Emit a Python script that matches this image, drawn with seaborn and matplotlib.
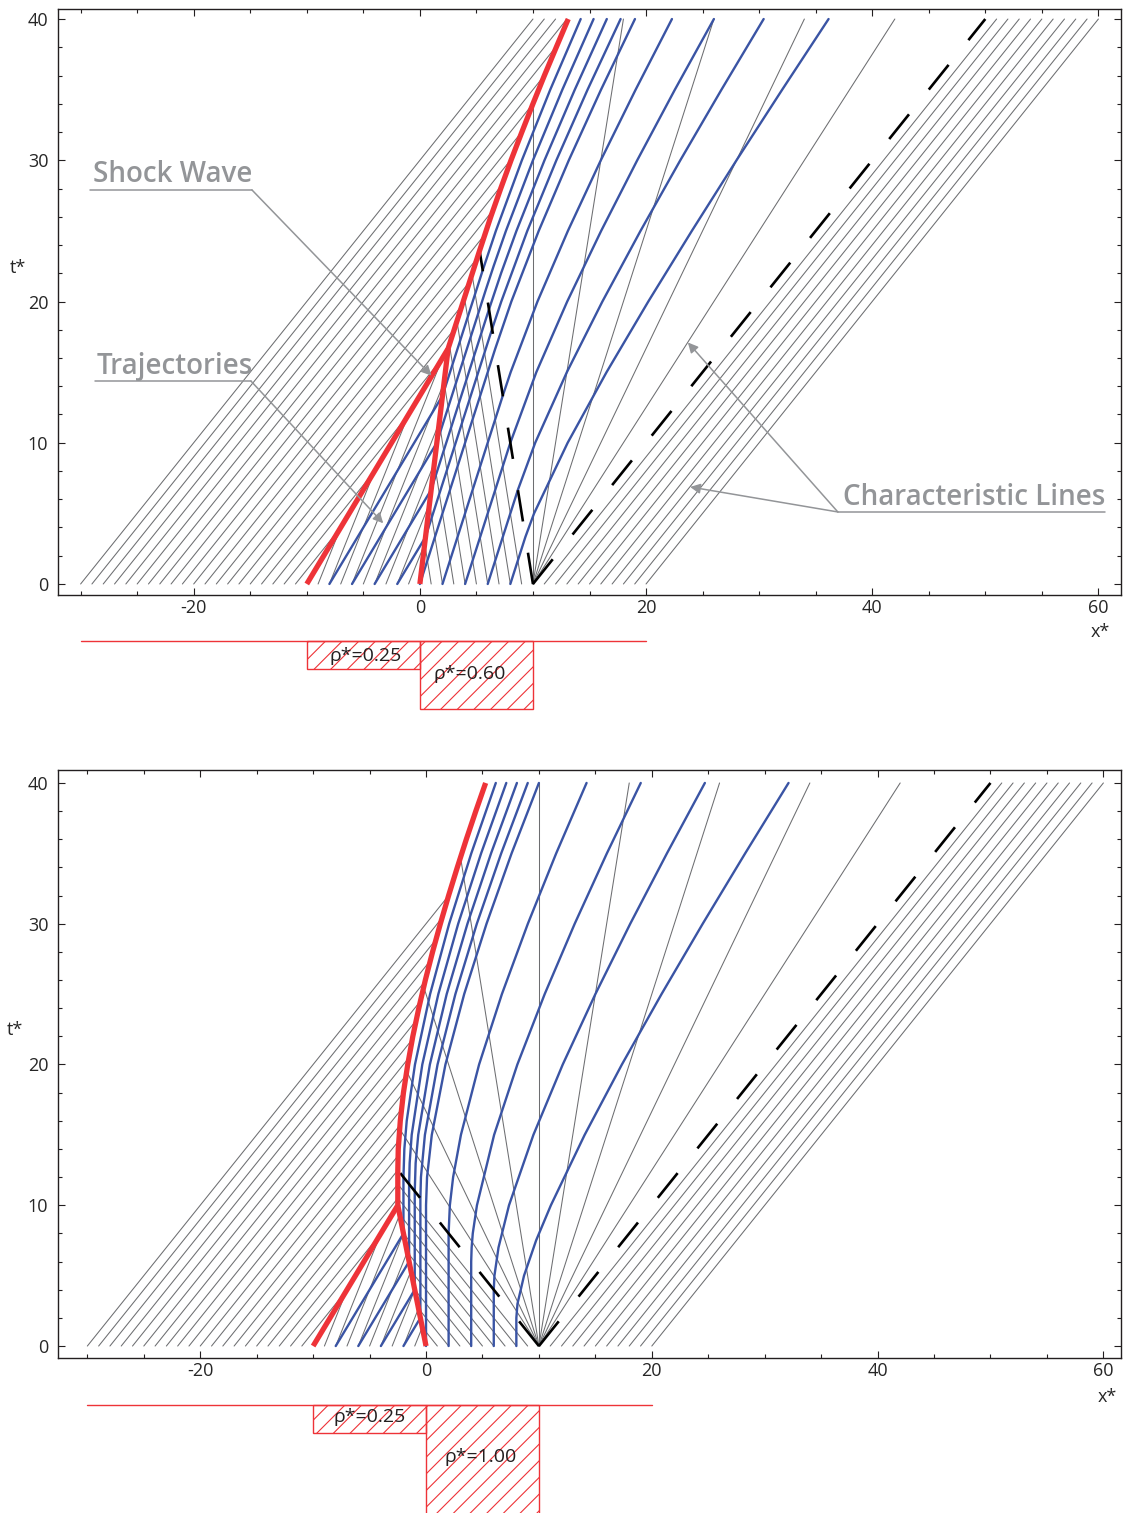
import matplotlib
matplotlib.use("Agg")
import matplotlib.pyplot as plt
import pandas as pd
import seaborn as sns

# ---- values ----
# density steps drawn under each panel (rho* = 0 elsewhere on the road)
road_x = [-30, 20]
block_left = [-10, 0]
block_width = [10, 10]
rho_a = [0.25, 0.60]
rho_b = [0.25, 1.00]

# characteristic lines: x* at t*=0, wave speed, t* where each line stops
up_x0 = list(range(-30, -10))      # rho* = 0 upstream
up_speed = 1.0
mid_x0 = list(range(-9, 0))        # rho* = 0.25
mid_speed = 0.5
jam_x0 = list(range(1, 10))        # rho* = 0.60 (top) / 1.00 (bottom)
down_x0 = list(range(11, 21))      # rho* = 0 downstream
down_speed = 1.0
down_tend = [40] * 10
fan_x0 = 10                        # centre of the expansion fan

# top panel
a_up_tend = [40, 40, 40, 40, 38.1, 36.0, 34.0, 32.0, 30.1, 28.3,
             26.5, 24.7, 23.1, 21.4, 19.7, 18.1, 16.0, 12.0, 8.0, 4.0]
a_mid_tend = [4, 8, 12, 16, 14.3, 11.4, 8.6, 5.7, 2.9]
a_jam_speed = -0.2
a_jam_tend = [2.9, 5.7, 8.6, 11.4, 14.3, 16.9, 18.6, 20.3, 21.9]
a_fan_speed = [0, 0.2, 0.4, 0.6, 0.8]
a_fan_tend = [34.0, 40, 40, 40, 40]
a_edge_speed = [-0.2, 1.0]
a_edge_tend = [23.6, 40]
a_shock_x = [[-10, 2.5, 5.28, 6.27, 7.15, 8.06, 9.02, 10.0, 11.01, 12.06, 13.12],
             [0, 2.5]]
a_shock_t = [[0, 16.67, 23.6, 26, 28, 30, 32, 34, 36, 38, 40],
             [0, 16.67]]
a_traj_x = [[8, 9.33, 10.10, 13.07, 16.51, 20.20, 24.05, 28.0, 32.04, 36.14],
            [6, 8.67, 10.20, 13.0, 16.14, 19.51, 23.03, 26.67, 30.40],
            [4, 8, 10.30, 13.03, 16.03, 19.22, 22.55, 26.0],
            [2, 7.33, 8.03, 10.40, 13.09, 16.0, 19.08, 22.29],
            [0, 6.67, 8.09, 10.51, 13.17, 16.02, 19.02],
            [-2, 0.5, 6.39, 7.20, 9.50, 12.07, 14.83, 17.75],
            [-4, 1, 6.11, 7.18, 8.54, 11.02, 13.70, 16.53],
            [-6, 1.5, 5.83, 6.52, 7.61, 10.0, 12.60, 15.36],
            [-8, 2, 5.56, 6.72, 9.02, 11.53, 14.22]]
a_traj_t = [[0, 3.33, 5, 10, 15, 20, 25, 30, 35, 40],
            [0, 6.67, 10, 15, 20, 25, 30, 35, 40],
            [0, 10, 15, 20, 25, 30, 35, 40],
            [0, 13.33, 15, 20, 25, 30, 35, 40],
            [0, 16.67, 20, 25, 30, 35, 40],
            [0, 3.33, 18.06, 20, 25, 30, 35, 40],
            [0, 6.67, 19.44, 22, 25, 30, 35, 40],
            [0, 10, 20.83, 22.5, 25, 30, 35, 40],
            [0, 13.33, 22.22, 25, 30, 35, 40]]

# bottom panel
b_up_tend = [32.0, 30.4, 28.9, 27.4, 25.9, 24.5, 23.1, 21.8, 20.5, 19.2,
             18.0, 16.8, 15.7, 14.6, 13.5, 12.5, 11.5, 10.5, 8.0, 4.0]
b_mid_tend = [4, 8, 9.3, 8, 6.7, 5.3, 4, 2.7, 1.3]
b_jam_speed = -1.0
b_jam_tend = [1.3, 2.7, 4, 5.3, 6.7, 8, 9.3, 10.5, 11.5]
b_fan_speed = [-0.8, -0.6, -0.4, -0.2, 0, 0.2, 0.4, 0.6, 0.8]
b_fan_tend = [15.4, 19.5, 25.5, 34.7, 40, 40, 40, 40, 40]
b_edge_speed = [-1.0, 1.0]
b_edge_tend = [12.5, 40]
b_shock_x = [[-10, -2.5, -2.5, -2.46, -2.28, -2.0, -1.62, -1.17, -0.64, -0.06,
              0.58, 1.27, 2.0, 2.77, 3.57, 4.41, 5.28],
             [0, -2.5]]
b_shock_t = [[0, 10, 12.5, 14, 16, 18, 20, 22, 24, 26, 28, 30, 32, 34, 36, 38, 40],
             [0, 10]]
b_traj_x = [[8, 8, 8.10, 8.68, 9.75, 11.06, 14.05, 17.35, 20.86, 24.51, 28.27, 32.11],
            [6, 6, 6.06, 6.42, 7.35, 9.51, 12.11, 15.0, 18.09, 21.34, 24.70],
            [4, 4, 4.04, 4.14, 4.51, 6.03, 8.09, 10.51, 13.17, 16.02, 19.02],
            [2, 2, 2.11, 2.40, 3.09, 4.70, 6.72, 9.02, 11.53, 14.22],
            [0, 0, 0.09, 0.51, 1.72, 3.38, 5.36, 7.58, 10.0],
            [-2, -0.5, -0.5, -0.45, -0.10, 1.02, 2.60, 4.50, 6.66, 9.01],
            [-4, -1, -1, -0.92, -0.69, 0.34, 1.83, 3.67, 5.76, 8.05],
            [-6, -1.5, -1.5, -1.45, -1.27, -0.33, 1.09, 2.85, 4.88, 7.11],
            [-8, -2, -2, -1.92, -1.71, -0.98, 0.36, 2.05, 4.01, 6.18]]
b_traj_t = [[0, 2, 3, 5, 7.5, 10, 15, 20, 25, 30, 35, 40],
            [0, 4, 5, 7, 10, 15, 20, 25, 30, 35, 40],
            [0, 6, 7, 8, 10, 15, 20, 25, 30, 35, 40],
            [0, 8, 10, 12, 15, 20, 25, 30, 35, 40],
            [0, 10, 12, 15, 20, 25, 30, 35, 40],
            [0, 2, 10.5, 12, 15, 20, 25, 30, 35, 40],
            [0, 4, 11, 13, 15, 20, 25, 30, 35, 40],
            [0, 6, 11.5, 13, 15, 20, 25, 30, 35, 40],
            [0, 8, 12, 14, 16, 20, 25, 30, 35, 40]]

GRAY = "#6d6e71"
BLUE = "#3a54a4"
RED = "#ee3338"
ANN = "#939598"

sns.set_theme(style="ticks")
plt.rcParams["font.family"] = ["Open Sans", "DejaVu Sans"]
plt.rcParams["axes.unicode_minus"] = False
plt.rcParams["hatch.linewidth"] = 0.8


def line_rows(x0s, speeds, tends, tag):
    rows = []
    for i, (x0, c, te) in enumerate(zip(x0s, speeds, tends)):
        rows += [(f"{tag}{i}", x0, 0.0), (f"{tag}{i}", x0 + c * te, te)]
    return rows


def path_rows(xs_list, ts_list, tag):
    rows = []
    for i, (xs, ts) in enumerate(zip(xs_list, ts_list)):
        rows += [(f"{tag}{i}", x, t) for x, t in zip(xs, ts)]
    return rows


def draw(ax, rows, **kw):
    df = pd.DataFrame(rows, columns=["id", "x", "t"])
    sns.lineplot(data=df, x="x", y="t", units="id", estimator=None, sort=False,
                 legend=False, ax=ax, **kw)


def draw_panel(ax, up_tend, mid_tend, jam_speed, jam_tend, fan_speed, fan_tend,
               edge_speed, edge_tend, shock_x, shock_t, traj_x, traj_t):
    gray = (line_rows(up_x0, [up_speed] * len(up_x0), up_tend, "u")
            + line_rows(mid_x0, [mid_speed] * len(mid_x0), mid_tend, "m")
            + line_rows(jam_x0, [jam_speed] * len(jam_x0), jam_tend, "j")
            + line_rows([fan_x0] * len(fan_speed), fan_speed, fan_tend, "f")
            + line_rows(down_x0, [down_speed] * len(down_x0), down_tend, "d"))
    draw(ax, gray, color=GRAY, linewidth=0.75, zorder=1)
    draw(ax, path_rows(traj_x, traj_t, "v"), color=BLUE, linewidth=1.7, zorder=2)
    draw(ax, line_rows([fan_x0] * 2, edge_speed, edge_tend, "e"), color="black",
         linewidth=1.9, linestyle=(0, (12, 12)), zorder=3)
    draw(ax, path_rows(shock_x, shock_t, "s"), color=RED, linewidth=3.8,
         solid_capstyle="butt", zorder=4)

    ax.set_xticks([-20, 0, 20, 40, 60])
    ax.set_xticks(range(-30, 61, 5), minor=True)
    ax.set_yticks([0, 10, 20, 30, 40])
    ax.set_yticks(range(0, 41, 2), minor=True)
    ax.tick_params(which="both", direction="in", top=True, right=True,
                   labelsize=13, width=0.8, color="#231f20")
    ax.tick_params(which="major", length=5)
    ax.tick_params(which="minor", length=3)
    ax.tick_params(axis="x", pad=3)
    ax.tick_params(axis="y", pad=7)
    ax.set_xlabel("")
    ax.set_ylabel("")
    for s in ax.spines.values():
        s.set_linewidth(1.0)
        s.set_color("#231f20")


def draw_density(ax, rho, label_xy):
    ax.plot(road_x, [0, 0], color=RED, linewidth=1.0)
    ax.bar(block_left, rho, width=block_width, align="edge", facecolor="none",
           edgecolor=RED, hatch="//", linewidth=1.0)
    for v, (lx, ly) in zip(rho, label_xy):
        ax.text(lx, ly, f"\u03c1*={v:.2f}", ha="center", va="center",
                fontsize=14, color="#231f20")
    ax.axis("off")


W, H = 1123, 1513
fig = plt.figure(figsize=(W / 100, H / 100), dpi=100)


def px_axes(left, top, right, bottom):
    return fig.add_axes([left / W, 1 - bottom / H, (right - left) / W, (bottom - top) / H])


ax1 = px_axes(58, 9, 1121, 595)
draw_panel(ax1, a_up_tend, a_mid_tend, a_jam_speed, a_jam_tend, a_fan_speed, a_fan_tend,
           a_edge_speed, a_edge_tend, a_shock_x, a_shock_t, a_traj_x, a_traj_t)
ax1.set_xlim(-32.0, 62.0)
ax1.set_ylim(-0.78, 40.71)

ax2 = px_axes(58, 770, 1121, 1358)
draw_panel(ax2, b_up_tend, b_mid_tend, b_jam_speed, b_jam_tend, b_fan_speed, b_fan_tend,
           b_edge_speed, b_edge_tend, b_shock_x, b_shock_t, b_traj_x, b_traj_t)
ax2.set_xlim(-32.6, 61.56)
ax2.set_ylim(-0.85, 40.92)

d1 = px_axes(58, 630, 1121, 720)
draw_density(d1, rho_a, [(-4.8, 0.133), (4.4, 0.292)])
d1.set_xlim(-32.0, 62.0)
d1.set_ylim(0.699, -0.097)

d2 = px_axes(58, 1395, 1121, 1513)
draw_density(d2, rho_b, [(-5.0, 0.106), (4.8, 0.46)])
d2.set_xlim(-32.6, 61.56)
d2.set_ylim(0.956, -0.088)

# axis names
for (tx, ty), (xx, xy) in [((18, 268), (1100, 632)), ((15, 1030), (1107, 1397))]:
    fig.text(tx / W, 1 - ty / H, "t*", ha="center", va="center", fontsize=13)
    fig.text(xx / W, 1 - xy / H, "x*", ha="center", va="center", fontsize=13)

# callouts on the top panel
arrow = dict(arrowstyle="-|>", color=ANN, lw=1.1, mutation_scale=15, shrinkA=0, shrinkB=0)
callouts = [("Shock Wave", -28.9, 28.96, 27.9, -29.2, -14.85, [(1.03, 14.75)]),
            ("Trajectories", -28.56, 15.43, 14.37, -28.7, -14.94, [(-3.24, 4.3)]),
            ("Characteristic Lines", 37.4, 6.09, 5.1, 60.57, 36.96, [(23.7, 17.1), (23.9, 6.87)])]
for text, tx, ty, uy, u0, u1, tips in callouts:
    ax1.text(tx, ty, text, ha="left", va="center", fontsize=20, color=ANN,
             fontweight="semibold", zorder=6)
    ax1.plot([u0, u1], [uy, uy], color=ANN, lw=1.1, zorder=6)
    for tip in tips:
        ax1.annotate("", xy=tip, xytext=(u1, uy), arrowprops=arrow, zorder=6)

fig.savefig("out.png", dpi=100)
